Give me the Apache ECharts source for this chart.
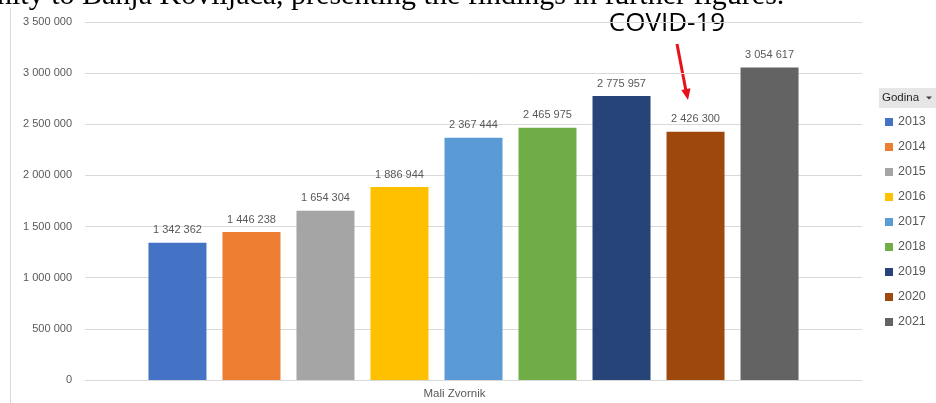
<!DOCTYPE html>
<html>
<head>
<meta charset="utf-8">
<script src="https://cdn.jsdelivr.net/npm/echarts@6/dist/echarts.min.js"></script>
<style>
  html, body { margin: 0; padding: 0; background: #fff; }
  #chart { width: 936px; height: 403px; }
</style>
</head>
<body>
<div id="chart"></div>
<script>
// Yearly totals for Mali Zvornik, one bar per year
const categories = ['Mali Zvornik'];
const years = ['2013', '2014', '2015', '2016', '2017', '2018', '2019', '2020', '2021'];
const values = [1342362, 1446238, 1654304, 1886944, 2367444, 2465975, 2775957, 2426300, 3054617];
const colors = ['#4472C4', '#ED7D31', '#A5A5A5', '#FFC000', '#5B9BD5', '#70AD47', '#264478', '#9E480E', '#636363'];
const yTicks = { min: 0, max: 3500000, interval: 500000 };

// thousands separated by spaces: 1342362 -> "1 342 362"
function spaced(n) {
  return String(Math.round(n)).replace(/\B(?=(\d{3})+(?!\d))/g, ' ');
}

const txt = '#595959';
const font = 'Liberation Sans';

const series = years.map((y, i) => ({
  name: y,
  type: 'bar',
  data: [values[i]],
  barWidth: 58,
  barGap: '27.6%',
  itemStyle: { color: colors[i] },
  label: {
    show: true,
    position: 'top',
    distance: 7,
    color: txt,
    fontFamily: font,
    fontSize: 11,
    formatter: p => spaced(p.value)
  }
}));

const chart = echarts.init(document.getElementById('chart'), null, { renderer: 'canvas' });
chart.setOption({
  animation: false,
  grid: { left: 85, right: 74, top: 22, bottom: 23, containLabel: false },
  xAxis: {
    type: 'category',
    data: categories,
    axisLine: { lineStyle: { color: '#d9d9d9', width: 1 } },
    axisTick: { show: false },
    axisLabel: { color: txt, fontFamily: font, fontSize: 11.5, margin: 8, padding: [0, 38, 0, 0] }
  },
  yAxis: {
    type: 'value',
    min: yTicks.min,
    max: yTicks.max,
    interval: yTicks.interval,
    axisLine: { show: false },
    axisTick: { show: false },
    splitLine: { lineStyle: { color: '#d9d9d9', width: 1 } },
    axisLabel: { color: txt, fontFamily: font, fontSize: 11, margin: 13, formatter: v => spaced(v) }
  },
  legend: {
    orient: 'vertical',
    left: 885,
    top: 115,
    padding: 0,
    itemWidth: 8,
    itemHeight: 8,
    itemGap: 11,
    icon: 'rect',
    textStyle: { color: txt, fontFamily: font, fontSize: 12.5, lineHeight: 14 },
    selectedMode: false
  },
  graphic: [
    // running text line from the page above the chart, clipped at the top
    {
      type: 'text', left: -3, top: -19, silent: true,
      style: { text: 'nity to Banja Koviljača, presenting the findings in further figures.',
               fill: '#000', font: '30px "Liberation Serif"' }
    },
    // chart area left border
    { type: 'line', silent: true, shape: { x1: 10.5, y1: 8, x2: 10.5, y2: 403 },
      style: { stroke: '#d9d9d9', lineWidth: 1 } },
    // COVID-19 annotation with arrow
    {
      type: 'text', x: 667, y: 24, silent: true,
      style: { text: 'COVID-19', fill: '#000', font: '26px "Open Sans"', align: 'center', verticalAlign: 'middle' }
    },
    { type: 'line', silent: true, shape: { x1: 677, y1: 44, x2: 686, y2: 91 },
      style: { stroke: '#e8101a', lineWidth: 3 } },
    { type: 'polygon', silent: true, shape: { points: [[690.5, 88.3], [681.3, 90.1], [688, 100]] },
      style: { fill: '#e8101a' } },
    // legend header button
    { type: 'rect', silent: true, shape: { x: 879, y: 88, width: 57, height: 20 },
      style: { fill: '#e6e6e6' } },
    { type: 'text', x: 882, y: 98, silent: true,
      style: { text: 'Godina', fill: '#262626', font: '11.5px "Liberation Sans"', verticalAlign: 'middle' } },
    { type: 'polygon', silent: true, shape: { points: [[926, 96.5], [932, 96.5], [929, 99.5]] },
      style: { fill: '#404040' } }
  ],
  series: series
});
</script>
</body>
</html>
